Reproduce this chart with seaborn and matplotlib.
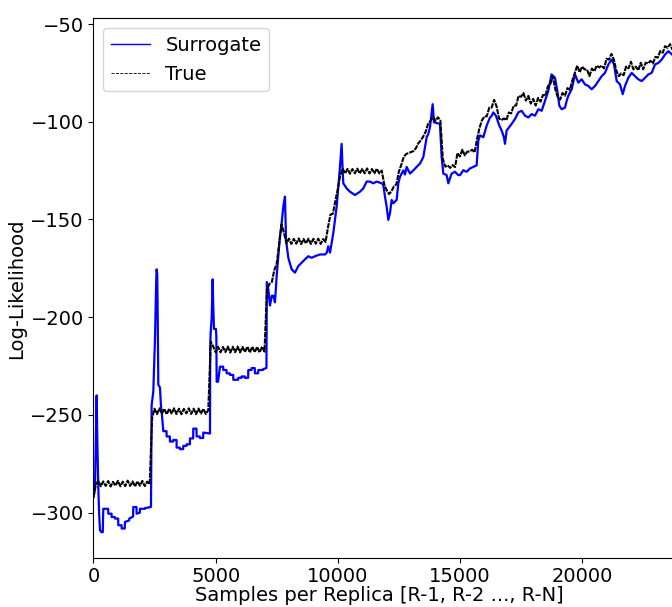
import numpy as np
import pandas as pd
import matplotlib
matplotlib.use("Agg")
import matplotlib.pyplot as plt
from matplotlib.lines import Line2D
import seaborn as sns

# ---------------- data ----------------
true_x = list(range(0, 23701, 100))
true_y = [
    # 0 - 2300
    -292.0, -285.5, -283.6, -286.5, -284.0, -286.3, -283.8, -286.6, -284.2, -286.2,
    -283.7, -286.5, -284.1, -286.4, -283.6, -286.3, -284.0, -286.6, -283.9, -286.2,
    -283.7, -286.4, -284.1, -285.5,
    # 2400 - 4700
    -251.5, -246.8, -249.6, -246.6, -249.4, -246.9, -249.7, -246.7, -249.3, -246.6,
    -249.5, -246.8, -249.6, -246.9, -249.2, -246.6, -249.5, -246.8, -249.6, -246.7,
    -249.3, -246.9, -249.5, -247.5,
    # 4800 - 7000
    -212.5, -215.0, -217.9, -215.1, -218.0, -215.2, -217.8, -215.0, -218.1, -215.1,
    -217.9, -215.0, -218.0, -215.2, -217.8, -215.0, -218.1, -215.1, -217.9, -215.2,
    -218.0, -215.1, -217.6,
    # 7100 - 9500
    -186.0, -183.0, -182.0, -176.0, -172.5, -162.5, -152.5, -157.0, -162.3, -159.8,
    -162.5, -159.9, -162.4, -159.7, -162.6, -160.0, -162.3, -159.8, -162.5, -159.9,
    -162.4, -159.8, -162.5, -160.0, -161.5,
    # 9600 - 11800
    -154.0, -147.5, -147.0, -140.5, -134.5, -127.5, -124.0, -126.5, -124.1, -126.6,
    -124.2, -126.4, -124.0, -126.5, -124.1, -126.4, -123.9, -126.5, -124.2, -126.4,
    -124.0, -126.5, -125.0,
    # 11900 - 14900
    -132.0, -135.0, -137.0, -135.5, -133.0, -132.0, -125.5, -122.0, -118.0, -116.5,
    -116.0, -115.5, -115.0, -113.5, -111.0, -109.5, -107.5, -105.0, -101.0, -99.5,
    -97.7, -99.5, -97.7, -99.4, -119.0, -123.0, -122.3, -123.6, -122.2, -123.2,
    -116.0,
    # 15000 - 23700
    -117.8, -114.3, -117.2, -115.3, -115.2, -114.3, -115.7, -108.8, -103.2, -99.3,
    -97.3, -97.2, -92.8, -92.7, -88.8, -92.2, -98.3, -99.2, -98.3, -99.2,
    -95.3, -95.7, -91.8, -91.7, -86.8, -87.2, -85.3, -89.2, -86.8, -90.7,
    -88.3, -91.7, -87.8, -89.7, -86.3, -86.7, -81.8, -80.7, -76.8, -83.2,
    -87.3, -88.7, -85.3, -86.7, -82.8, -83.7, -78.8, -75.2, -71.3, -74.7,
    -71.8, -73.2, -73.3, -76.7, -72.8, -74.2, -71.3, -72.2, -71.3, -72.7,
    -67.8, -68.2, -65.3, -68.2, -73.8, -76.7, -75.3, -76.2, -71.8, -72.7,
    -69.3, -73.2, -71.8, -73.7, -69.8, -73.2, -69.8, -70.2, -68.8, -70.2,
    -66.8, -67.2, -63.8, -64.7, -61.3, -62.2, -60.3, -63.2,
]

surr_x = [
    0, 60, 100, 130, 160, 198, 230, 266, 330, 380,
    402, 600, 607, 740, 744, 870, 880, 1010, 1016, 1150,
    1153, 1280, 1289, 1460, 1467, 1620, 1630, 1760, 1767, 1900,
    1903, 2100, 2108, 2340,
    2354, 2370, 2381, 2449, 2520, 2570, 2586, 2610, 2630, 2654,
    2722, 2760, 2790, 2858, 2990, 2995, 3125, 3131, 3260, 3268,
    3400, 3404, 3535, 3541, 3670, 3677, 3810, 3814, 3945, 3950,
    4080, 4086, 4215, 4223, 4350, 4359, 4490, 4496, 4760,
    4769, 4780, 4796, 4840, 4878, 4905, 4933, 5014, 5030, 5042,
    5100, 5178, 5310, 5314, 5445, 5451, 5580, 5587, 5720, 5724,
    5920, 5928, 6060, 6065, 6195, 6201, 6330, 6338, 6470, 6474,
    6600, 6610, 6740, 6747, 6940, 6951, 7080,
    7095, 7156, 7225, 7300, 7361, 7429, 7498, 7566, 7634, 7702,
    7770, 7839, 7880, 7975, 8112, 8248, 8385, 8521, 8657, 8794,
    8930, 9067, 9271, 9476, 9544,
    9612, 9681, 9749, 9817, 9954, 10090, 10158, 10200, 10226, 10363,
    10499, 10704, 10909, 11045, 11182, 11318, 11454, 11591, 11796, 11864,
    11932, 12000, 12068, 12137, 12205, 12273, 12410, 12478, 12546, 12682,
    12750, 12819, 12955, 13092, 13228, 13365, 13501, 13638, 13706, 13774,
    13883, 13938, 14183, 14252, 14320, 14456, 14524, 14661, 14797, 14934,
    15002, 15139, 15275, 15412, 15548, 15684, 15752, 15821, 15957, 16094,
    16230, 16298, 16367, 16476, 16612, 16708, 16800, 16844, 16912, 17117,
    17254, 17390, 17527, 17663, 17800, 17936, 18073, 18209, 18346, 18482,
    18618, 18750, 18891, 18987, 19069, 19164, 19300, 19369, 19437, 19573,
    19710, 19846, 19983, 20119, 20256, 20392, 20529, 20665, 20802, 20938,
    21075, 21211, 21307, 21416, 21552, 21662, 21757, 21894, 22030, 22167,
    22303, 22440, 22576, 22713, 22849, 22986, 23122, 23259, 23395, 23532,
    23682,
]
surr_y = [
    -292.0, -288.0, -262.0, -240.0, -265.0, -287.0, -300.0, -309.0, -310.0, -310.0,
    -298.0, -298.0, -300.5, -300.5, -302.2, -302.2, -303.0, -303.0, -306.4, -306.4,
    -308.1, -308.1, -304.7, -304.0, -303.0, -302.0, -297.1, -297.1, -300.5, -300.0,
    -298.0, -298.0, -297.7, -297.1,
    -297.0, -260.0, -245.0, -238.0, -210.0, -180.0, -175.5, -178.0, -200.0, -234.5,
    -236.0, -245.0, -248.0, -258.3, -258.3, -261.0, -261.0, -263.6, -263.6, -262.8,
    -262.8, -266.7, -266.7, -267.5, -267.5, -265.8, -265.8, -265.0, -265.0, -262.0,
    -262.0, -257.0, -257.0, -261.0, -261.0, -261.8, -261.8, -259.0, -259.5,
    -259.5, -215.0, -208.0, -200.0, -180.6, -195.0, -206.0, -206.0, -210.0, -233.0,
    -233.0, -225.3, -225.3, -227.0, -227.0, -228.7, -228.7, -229.5, -229.5, -232.0,
    -232.0, -231.0, -231.0, -230.3, -230.3, -231.0, -231.0, -227.0, -227.0, -226.0,
    -226.0, -228.7, -228.7, -227.0, -227.0, -226.5, -226.0,
    -182.0, -185.6, -194.0, -189.0, -189.0, -192.4, -179.0, -168.8, -158.6, -151.8,
    -143.4, -138.3, -160.3, -169.6, -175.5, -177.2, -173.8, -172.1, -170.4, -168.8,
    -169.6, -168.8, -167.9, -167.9, -167.1,
    -163.7, -167.0, -162.0, -156.9, -143.4, -123.1, -111.3, -125.0, -131.5, -134.1,
    -135.8, -137.5, -135.8, -134.1, -130.6, -130.6, -131.5, -130.6, -131.5, -132.3,
    -138.3, -143.4, -150.2, -146.8, -140.0, -141.7, -140.0, -131.5, -128.2, -124.9,
    -127.0, -123.1, -126.5, -124.9, -123.1, -121.4, -118.1, -107.9, -106.2, -102.8,
    -91.0, -100.3, -101.1, -118.1, -126.5, -127.3, -131.5, -126.5, -125.6, -127.3,
    -127.3, -124.8, -125.6, -123.9, -123.1, -122.3, -109.6, -107.0, -107.9, -102.0,
    -97.8, -97.0, -95.2, -97.0, -102.0, -104.5, -107.9, -111.3, -104.5, -101.1,
    -98.6, -95.2, -94.4, -96.9, -97.8, -96.1, -96.9, -93.6, -94.4, -89.3,
    -84.2, -75.8, -77.5, -84.2, -91.8, -93.6, -92.8, -89.3, -86.7, -83.4,
    -75.8, -80.0, -78.3, -80.9, -81.7, -83.4, -81.7, -79.2, -76.7, -75.0,
    -70.7, -68.2, -70.7, -79.2, -80.9, -85.9, -81.7, -77.5, -75.0, -76.7,
    -78.3, -79.2, -77.5, -75.8, -75.0, -70.7, -69.9, -68.2, -65.6, -63.9,
    -65.6,
]

series_labels = ["Surrogate", "True"]
x_label = "Samples per Replica [R-1, R-2 ..., R-N]"
y_label = "Log-Likelihood"

# ---------------- plot ----------------
df_true = pd.DataFrame({"x": true_x, "y": true_y})
df_surr = pd.DataFrame({"x": surr_x, "y": surr_y})

fig = plt.figure(figsize=(6.72, 6.07), dpi=100)
ax = fig.add_axes([0.1391, 0.0800, 0.8907, 0.8898])

sns.lineplot(data=df_surr, x="x", y="y", ax=ax, color="blue", linewidth=1.6,
             estimator=None, sort=False)
sns.lineplot(data=df_true, x="x", y="y", ax=ax, color="black", linewidth=1.5,
             estimator=None, sort=False)
ax.lines[-1].set_dashes([2.5, 0.5])

ax.set_xlim(0, 24500)
ax.set_ylim(-323.4, -47.1)
ax.set_xticks([0, 5000, 10000, 15000, 20000])
ax.set_yticks([-300, -250, -200, -150, -100, -50])
ax.tick_params(labelsize=14)
ax.tick_params(axis="x", pad=2.8)
ax.set_xlabel(x_label, fontsize=14, labelpad=0)
ax.xaxis.label.set_x(0.477)
ax.set_ylabel(y_label, fontsize=14, labelpad=3)

handles = [Line2D([], [], color="blue", linewidth=1.0),
           Line2D([], [], color="black", linewidth=0.6, linestyle="--")]
ax.legend(handles, series_labels, loc="upper left", fontsize=14)

fig.savefig("out.png", dpi=100)
